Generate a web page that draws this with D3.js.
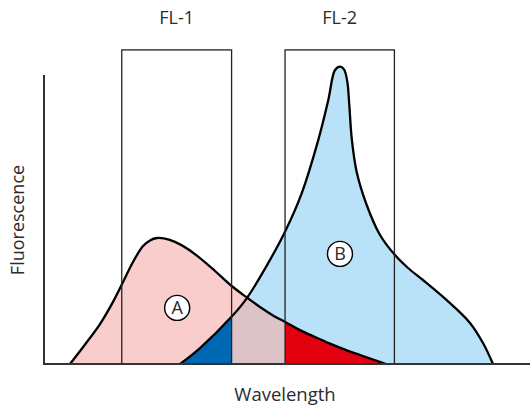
<!DOCTYPE html>
<html><head><meta charset="utf-8">
<script src="https://cdn.jsdelivr.net/npm/d3@7"></script>
<style>body{margin:0;background:#fff}svg{display:block}text{font-family:"Open Sans","Noto Sans",sans-serif;fill:#2b2b2b}</style>
</head><body><div id="chart"></div>
<script>
// Emission spectrum A (wavelength, fluorescence)
const aWave = [5.35, 8.44, 11.52, 14.2, 16.26, 18.31, 20.37, 21.81, 23.25, 24.9, 26.95, 29.42, 32.1, 35.19, 38.62, 41.71, 44.44, 47.12, 50.0, 52.67, 55.76, 58.85, 61.93, 65.02, 67.7, 70.37];
const aFluo = [0, 6.5, 13.3, 20.7, 27.3, 34.0, 39.3, 41.2, 42.0, 41.8, 40.7, 38.5, 35.3, 31.0, 26.0, 22.2, 19.0, 16.2, 13.7, 11.3, 9.0, 6.8, 4.8, 3.0, 1.5, 0];
// Emission spectrum B
const bWave = [28.0, 32.1, 38.62, 41.71, 46.15, 49.59, 53.02, 56.44, 58.5, 59.88, 60.91, 61.73, 62.41, 62.82, 63.31, 64.34, 66.4, 69.14, 72.22, 74.9, 77.98, 82.86, 87.65, 90.33, 92.39];
const bFluo = [0, 5.3, 15.8, 21.9, 33.7, 44.1, 56.9, 74.7, 88.0, 98.0, 99.1, 98.2, 94.1, 86.3, 75.3, 64.0, 53.0, 43.0, 36.3, 32.0, 28.0, 21.3, 13.7, 7.0, 0];
// Detector filter bands
const bandNames = ["FL-1", "FL-2"];
const bandStart = [16.0, 49.6];
const bandEnd = [38.6, 72.1];
const bandTop = 104.7;
const spectrumLabels = ["A", "B"];
const labelWave = [27.4, 60.9];
const labelFluo = [18.7, 36.7];

const W = 530, H = 407;
const svg = d3.select("#chart").append("svg").attr("width", W).attr("height", H);
const x = d3.scaleLinear().domain([0, 100]).range([44, 530]);
const y = d3.scaleLinear().domain([0, 100]).range([364, 64]);

const A = aWave.map((w, i) => [w, aFluo[i]]);
const B = bWave.map((w, i) => [w, bFluo[i]]);
const curve = d3.curveCatmullRom.alpha(0.5);
const area = d3.area().x(d => x(d[0])).y0(y(0)).y1(d => y(d[1])).curve(curve);
const line = d3.line().x(d => x(d[0])).y(d => y(d[1])).curve(curve);

const defs = svg.append("defs");
defs.append("clipPath").attr("id", "clipA").append("path").attr("d", area(A));
defs.append("clipPath").attr("id", "clipB").append("path").attr("d", area(B));
defs.append("clipPath").attr("id", "clipPlot").append("rect")
  .attr("x", 0).attr("y", 0).attr("width", W).attr("height", y(0));

const plot = svg.append("g").attr("clip-path", "url(#clipPlot)");
plot.append("path").attr("d", area(A)).attr("fill", "#f8cdcb");
plot.append("path").attr("d", area(B)).attr("fill", "#b9e2f8");

// overlap of the two spectra, coloured by detector band
const overlapColors = ["#0067b3", "#dbc3c8", "#e3000f"];
const edges = [0, bandEnd[0], bandStart[1], 100];
const ov = plot.append("g").attr("clip-path", "url(#clipA)").append("g").attr("clip-path", "url(#clipB)");
ov.selectAll("rect").data(overlapColors).join("rect")
  .attr("x", (d, i) => x(edges[i])).attr("width", (d, i) => x(edges[i + 1]) - x(edges[i]))
  .attr("y", y(100)).attr("height", y(0) - y(100)).attr("fill", d => d);

plot.append("path").attr("d", line(A)).attr("fill", "none").attr("stroke", "#000").attr("stroke-width", 2.3);
plot.append("path").attr("d", line(B)).attr("fill", "none").attr("stroke", "#000").attr("stroke-width", 2.3);

// filter boxes
svg.selectAll("rect.band").data(bandNames).join("rect").attr("class", "band")
  .attr("x", (d, i) => x(bandStart[i])).attr("width", (d, i) => x(bandEnd[i]) - x(bandStart[i]))
  .attr("y", y(bandTop)).attr("height", y(0) - y(bandTop))
  .attr("fill", "none").attr("stroke", "#222").attr("stroke-width", 1.3);
svg.selectAll("text.band").data(bandNames).join("text").attr("class", "band")
  .attr("x", (d, i) => (x(bandStart[i]) + x(bandEnd[i])) / 2).attr("y", 24)
  .attr("text-anchor", "middle").attr("font-size", 18).text(d => d);

// axes
svg.append("line").attr("x1", x(0)).attr("x2", x(0)).attr("y1", 75).attr("y2", y(0)).attr("stroke", "#333").attr("stroke-width", 2);
svg.append("line").attr("x1", x(0) - 1).attr("x2", x(100)).attr("y1", y(0)).attr("y2", y(0)).attr("stroke", "#333").attr("stroke-width", 2);
svg.append("text").attr("x", 285).attr("y", 401).attr("text-anchor", "middle").attr("font-size", 18.5).text("Wavelength");
svg.append("text").attr("transform", "translate(24,220) rotate(-90)").attr("text-anchor", "middle").attr("font-size", 18).text("Fluorescence");

// spectrum labels
const lg = svg.selectAll("g.lab").data(spectrumLabels).join("g").attr("class", "lab")
  .attr("transform", (d, i) => `translate(${x(labelWave[i])},${y(labelFluo[i])})`);
lg.append("circle").attr("r", 12.5).attr("fill", "#fff").attr("stroke", "#000").attr("stroke-width", 1.4);
lg.append("text").attr("text-anchor", "middle").attr("dy", "0.36em").attr("font-size", 18).text(d => d);
</script></body></html>
